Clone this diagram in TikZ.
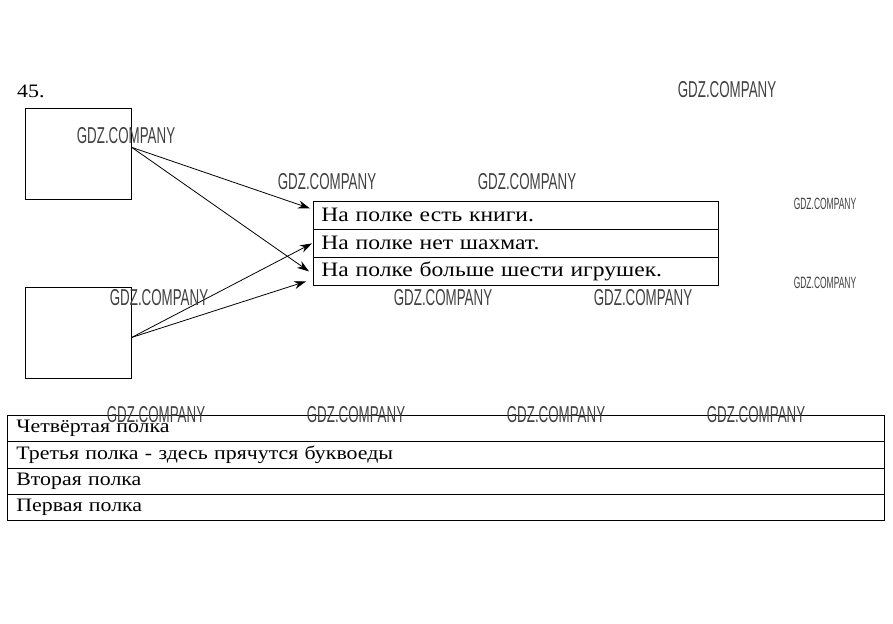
\documentclass[tikz,border=0pt]{standalone}
\usepackage{fontspec}
\setmainfont{Liberation Serif}[FakeStretch=1.15]
\newfontfamily\wmfont{Liberation Sans}[FakeStretch=0.58]
\newfontfamily\wmsmall{Liberation Sans}[FakeStretch=0.52]
\usetikzlibrary{arrows.meta}
\begin{document}
\begin{tikzpicture}[x=1pt,y=-1pt,
  box/.style={draw, line width=0.8pt, minimum width=106pt, minimum height=91pt, anchor=north west, inner sep=0pt},
  sent/.style={draw, line width=0.8pt, minimum width=405pt, minimum height=28pt, anchor=north west, text width=389pt, inner xsep=8pt, inner ysep=1pt, align=left, font=\fontsize{20.5}{24}\selectfont},
  shelf/.style={draw, line width=0.8pt, minimum width=877pt, minimum height=26.25pt, anchor=north west, text width=859pt, inner xsep=9pt, inner ysep=1pt, align=left, font=\fontsize{19}{22}\selectfont},
  wm/.style={font=\wmfont\fontsize{23}{23}\selectfont, text=black!75, inner sep=0pt},
  wms/.style={font=\wmsmall\fontsize{16.3}{16.3}\selectfont, text=black!75, inner sep=0pt},
  link/.style={line width=0.8pt, -{Stealth[length=12pt,width=8pt]}}
]
\useasboundingbox (0,0) rectangle (893,623);
\node[anchor=base west, inner sep=0pt, font=\fontsize{19}{19}\selectfont] (num) at (17,98) {45.};
\node[box] (tl) at (25,108) {};
\node[box] (bl) at (25,287) {};
\node[sent] (r1) at (313,201) {На полке есть книги.};
\node[sent] (r2) at (313,229) {На полке нет шахмат.};
\node[sent] (r3) at (313,257) {На полке больше шести игрушек.};
\draw[link] ([yshift=6.5pt]tl.east) -- ([xshift=-3pt,yshift=7pt]r1.west);
\draw[link] ([yshift=6.5pt]tl.east) -- ([xshift=-4pt]r3.west);
\draw[link] ([yshift=-4.5pt]bl.east) -- ([xshift=-1pt]r2.west);
\draw[link] ([yshift=-4.5pt]bl.east) -- ([xshift=-7pt,yshift=-10pt]r3.west);
\node[shelf] (s4) at (7,415) {Четвёртая полка};
\node[shelf] (s3) at (7,441.25) {Третья полка - здесь прячутся буквоеды};
\node[shelf] (s2) at (7,467.5) {Вторая полка};
\node[shelf] (s1) at (7,493.75) {Первая полка};
\node[wm] (w1) at (126,136) {GDZ.COMPANY};
\node[wm] (w2) at (327,182) {GDZ.COMPANY};
\node[wm] (w3) at (527,182) {GDZ.COMPANY};
\node[wm] (w4) at (727,90) {GDZ.COMPANY};
\node[wms] (w5) at (825,204) {GDZ.COMPANY};
\node[wms] (w6) at (825,283) {GDZ.COMPANY};
\node[wm] (w7) at (159,298) {GDZ.COMPANY};
\node[wm] (w8) at (443,298) {GDZ.COMPANY};
\node[wm] (w9) at (643,298) {GDZ.COMPANY};
\node[wm] (w10) at (156,415) {GDZ.COMPANY};
\node[wm] (w11) at (356,415) {GDZ.COMPANY};
\node[wm] (w12) at (556,415) {GDZ.COMPANY};
\node[wm] (w13) at (756,415) {GDZ.COMPANY};
\end{tikzpicture}
\end{document}
